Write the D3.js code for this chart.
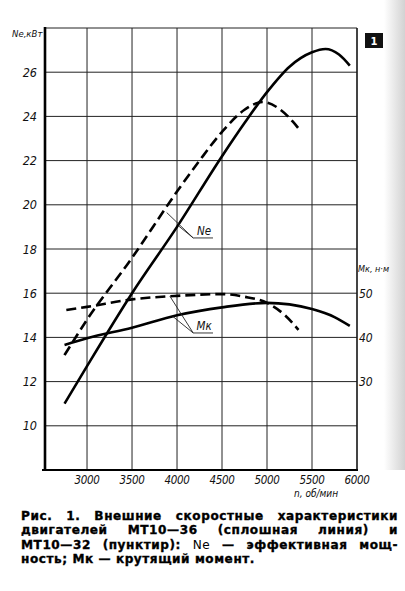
<!DOCTYPE html>
<html>
<head>
<meta charset="utf-8">
<script src="https://cdn.jsdelivr.net/npm/d3@7"></script>
<style>
  html, body { margin: 0; padding: 0; background: #fff; }
  svg { display: block; }
</style>
</head>
<body>
<div id="chart"></div>
<script>
// Axis ticks
const rpmTicks = [3000, 3500, 4000, 4500, 5000, 5500, 6000];
const neTicks  = [10, 12, 14, 16, 18, 20, 22, 24, 26];
const mkTicks  = [30, 40, 50];

// Ne, kW — MT10-36 (solid)
const neSolidRpm = [2750, 3000, 3500, 4000, 4500, 4750, 5000, 5250, 5500, 5650, 5800, 5920];
const neSolidVal = [11.0, 12.7, 16.0, 19.0, 22.2, 23.7, 25.1, 26.25, 26.9, 27.05, 26.8, 26.3];

// Ne, kW — MT10-32 (dashed)
const neDashRpm = [2750, 3000, 3500, 4000, 4250, 4500, 4750, 4950, 5150, 5290, 5380];
const neDashVal = [13.2, 14.8, 17.6, 20.6, 22.0, 23.3, 24.3, 24.65, 24.3, 23.75, 23.3];

// Mk, N·m — MT10-36 (solid)
const mkSolidRpm = [2750, 3000, 3500, 4000, 4500, 5000, 5500, 5750, 5920];
const mkSolidVal = [38.3, 39.8, 42.2, 45.0, 46.8, 47.8, 46.4, 44.6, 42.6];

// Mk, N·m — MT10-32 (dashed)
const mkDashRpm = [2770, 3000, 3500, 4000, 4500, 4750, 5000, 5200, 5350];
const mkDashVal = [46.2, 46.9, 48.6, 49.4, 49.8, 49.2, 47.8, 45.0, 41.7];

const captionLines = [
    [['Рис. 1. Внешние скоростные характеристики', 700]],
    [['двигателей МТ10—36 (сплошная линия) и', 700]],
    [['МТ10—32 (пунктир): ', 700], ['Ne', 400], [' — эффективная мощ-', 700]],
    [['ность; Мк — крутящий момент.', 700]]
];

const W = 405, H = 591;
const FONT = '"Liberation Sans Narrow", "DejaVu Sans Condensed", "Liberation Sans", sans-serif';

const svg = d3.select('#chart').append('svg')
    .attr('width', W).attr('height', H)
    .attr('viewBox', `0 0 ${W} ${H}`);

// scanned-page shading at the right edge
const grad = svg.append('defs').append('linearGradient')
    .attr('id', 'edge').attr('x1', 0).attr('x2', 1);
grad.append('stop').attr('offset', 0).attr('stop-color', '#fff');
grad.append('stop').attr('offset', 1).attr('stop-color', '#d2d2d2');
svg.append('rect').attr('width', W).attr('height', H).attr('fill', '#fff');
svg.append('rect').attr('x', 384).attr('y', 0).attr('width', 21).attr('height', 470)
    .attr('fill', 'url(#edge)');

const x  = d3.scaleLinear().domain([2533, 6000]).range([45, 357]);
const y  = d3.scaleLinear().domain([8, 28]).range([470, 28]);
const y2 = d3.scaleLinear().domain([10, 110]).range([470, 28]);

const g = svg.append('g');

// Grid
g.selectAll('line.vgrid')
    .data(rpmTicks)
    .join('line')
    .attr('x1', d => x(d)).attr('x2', d => x(d))
    .attr('y1', y(28)).attr('y2', y(8))
    .attr('stroke', '#222').attr('stroke-width', 1);

g.selectAll('line.hgrid')
    .data(neTicks.concat([28]))
    .join('line')
    .attr('x1', x(2533)).attr('x2', x(6000))
    .attr('y1', d => y(d)).attr('y2', d => y(d))
    .attr('stroke', '#222').attr('stroke-width', 1);

// Frame: thick left and bottom axes
g.append('line')
    .attr('x1', x(2533)).attr('x2', x(2533))
    .attr('y1', y(28) - 1).attr('y2', y(8) + 1)
    .attr('stroke', '#000').attr('stroke-width', 2.6);
g.append('line')
    .attr('x1', x(2533) - 3).attr('x2', x(6000) + 1)
    .attr('y1', y(8)).attr('y2', y(8))
    .attr('stroke', '#000').attr('stroke-width', 2.2);
g.append('line')
    .attr('x1', x(6000)).attr('x2', x(6000))
    .attr('y1', y(28)).attr('y2', y(8))
    .attr('stroke', '#111').attr('stroke-width', 1.2);

// Tick labels
g.selectAll('text.ne')
    .data(neTicks)
    .join('text')
    .attr('x', 37).attr('y', d => y(d))
    .attr('dy', '0.36em')
    .attr('text-anchor', 'end')
    .style('font-family', FONT).style('font-style', 'italic')
    .style('font-size', '12.5px').style('fill', '#111')
    .text(d => d);

g.selectAll('text.rpm')
    .data(rpmTicks)
    .join('text')
    .attr('x', d => x(d)).attr('y', 484)
    .attr('text-anchor', 'middle')
    .style('font-family', FONT).style('font-style', 'italic')
    .style('font-size', '11.5px').style('letter-spacing', '-0.3px').style('fill', '#111')
    .text(d => d);

g.selectAll('text.mk')
    .data(mkTicks)
    .join('text')
    .attr('x', 359).attr('y', d => y2(d))
    .attr('dy', '0.36em')
    .style('font-family', FONT).style('font-style', 'italic')
    .style('font-size', '12px').style('fill', '#111')
    .text(d => d);

// Axis titles
g.append('text').attr('x', 12).attr('y', 37)
    .style('font-family', FONT).style('font-style', 'italic')
    .style('font-size', '9.5px').style('fill', '#111')
    .text('Ne,кВт');
g.append('text').attr('x', 358).attr('y', 272)
    .style('font-family', FONT).style('font-style', 'italic')
    .style('font-size', '9px').style('fill', '#111')
    .text('Мк, н·м');
g.append('text').attr('x', 294).attr('y', 497)
    .style('font-family', FONT).style('font-style', 'italic')
    .style('font-size', '10px').style('fill', '#111')
    .text('n, об/мин');

// Figure number box
g.append('rect').attr('x', 365).attr('y', 33).attr('width', 18).attr('height', 15)
    .attr('fill', '#111');
g.append('text').attr('x', 374).attr('y', 44.5)
    .attr('text-anchor', 'middle')
    .style('font-family', '"DejaVu Sans", sans-serif').style('font-weight', 700)
    .style('font-size', '10px').style('fill', '#fff')
    .text('1');

// Curves
const lineNe = d3.line().x(d => x(d[0])).y(d => y(d[1])).curve(d3.curveMonotoneX);
const lineMk = d3.line().x(d => x(d[0])).y(d => y2(d[1])).curve(d3.curveMonotoneX);

const series = [
    { rpm: neSolidRpm, val: neSolidVal, gen: lineNe, dash: null },
    { rpm: neDashRpm,  val: neDashVal,  gen: lineNe, dash: '10 5' },
    { rpm: mkSolidRpm, val: mkSolidVal, gen: lineMk, dash: null },
    { rpm: mkDashRpm,  val: mkDashVal,  gen: lineMk, dash: '10 5' }
];

g.selectAll('path.curve')
    .data(series)
    .join('path')
    .attr('class', 'curve')
    .attr('fill', 'none')
    .attr('stroke', '#000')
    .attr('stroke-width', 2.6)
    .attr('stroke-dasharray', d => d.dash)
    .attr('d', d => d.gen(d.rpm.map((r, i) => [r, d.val[i]])));

// Curve labels with leader lines (positions in data units)
function curveLabel(text, scale, anchor, underlineEnd, targets) {
    const ax = x(anchor[0]), ay = scale(anchor[1]);
    targets.forEach(t => {
        g.append('line')
            .attr('x1', x(t[0])).attr('y1', scale(t[1]))
            .attr('x2', ax).attr('y2', ay)
            .attr('stroke', '#222').attr('stroke-width', 0.9);
    });
    g.append('line')
        .attr('x1', ax).attr('y1', ay)
        .attr('x2', x(underlineEnd)).attr('y2', ay)
        .attr('stroke', '#222').attr('stroke-width', 0.9);
    g.append('text')
        .attr('x', (ax + x(underlineEnd)) / 2 + 1).attr('y', ay - 3)
        .attr('text-anchor', 'middle')
        .style('font-family', FONT).style('font-style', 'italic')
        .style('font-size', '11.5px').style('fill', '#111')
        .text(text);
}

curveLabel('Ne', y, [4180, 18.5], 4400, [[3885, 19.65], [4015, 19.05]]);
curveLabel('Мк', y2, [4180, 41.0], 4400, [[3920, 49.35], [3950, 44.8]]);

// Caption, justified by word spacing
const CAP_X = 21, CAP_R = 398;
captionLines.forEach((segs, i) => {
    const t = svg.append('text')
        .attr('x', CAP_X).attr('y', 520 + i * 14.3)
        .style('font-family', '"DejaVu Sans", sans-serif')
        .style('font-size', '12.1px').style('letter-spacing', '0.55px')
        .style('fill', '#000');
    segs.forEach(s => {
        const ts = t.append('tspan').style('font-weight', s[1]).text(s[0]);
        if (s[1] === 700) ts.attr('stroke', '#000').attr('stroke-width', 0.35);
    });
    if (i < captionLines.length - 1) {
        const natural = t.node().getComputedTextLength();
        const spaces = segs.map(s => s[0]).join('').split(' ').length - 1;
        const extra = (CAP_R - CAP_X - natural) / spaces;
        if (extra >= -1) {
            t.style('word-spacing', extra + 'px');
        } else {
            t.attr('textLength', CAP_R - CAP_X).attr('lengthAdjust', 'spacingAndGlyphs');
        }
    }
});
</script>
</body>
</html>
